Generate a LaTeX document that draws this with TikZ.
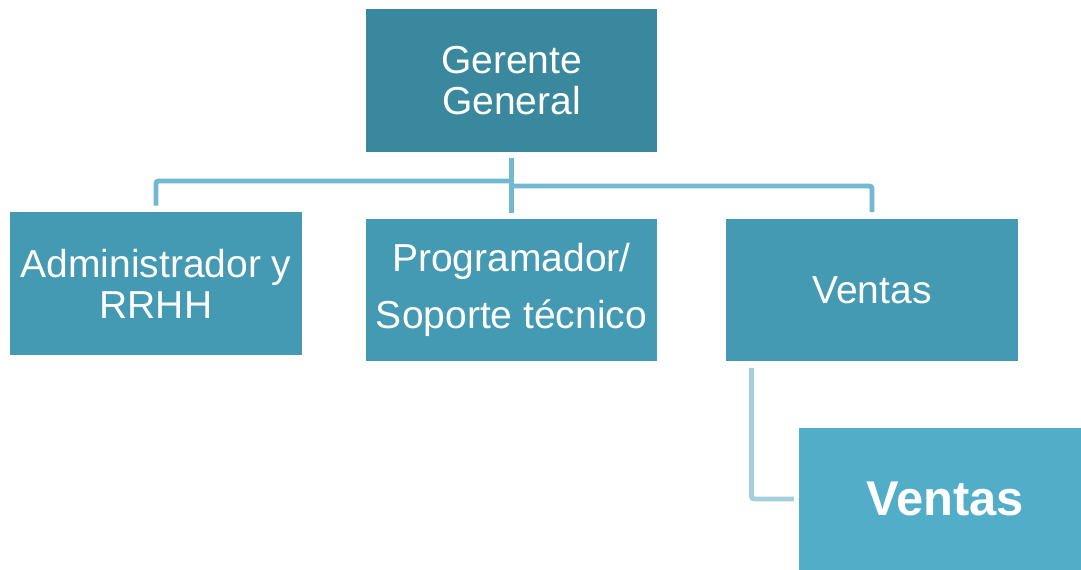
\documentclass[tikz,border=0pt]{standalone}
\usepackage{fontspec}
\setmainfont{Liberation Sans}
\definecolor{gerente}{HTML}{3A889D}
\definecolor{area}{HTML}{4499B3}
\definecolor{subarea}{HTML}{52ADC8}
\definecolor{linea}{HTML}{72B8CF}
\definecolor{lineaclara}{HTML}{A6CFDE}
\tikzset{
	caja/.style={fill=area,text=white,minimum width=5.84cm,minimum height=2.86cm,
		align=center,inner sep=0pt,font=\fontsize{22.2}{23.2}\selectfont},
	conector/.style={draw=linea,line width=2.8pt,rounded corners=1.5pt},
}
\begin{document}
\begin{tikzpicture}[x=0.02cm,y=-0.02cm]
		\useasboundingbox (0,0) rectangle (1081,569);
		\node[caja,fill=gerente] (gg) at (511.5,80.5) {Gerente\\General};
		\node[caja] (admin) at (156,283.5) {Administrador y\\RRHH};
		\node[caja,font=\fontsize{22.2}{32}\selectfont] (prog) at (511.5,290) {Programador/\\Soporte t\'ecnico};
		\node[caja] (ventas) at (872,290) {Ventas};
		\node[caja,fill=subarea,font=\fontsize{27.8}{30}\selectfont\bfseries] (subventas) at (945,499) {Ventas};
		%ramas
		\coordinate (bus1) at (gg.south |- 0,181);
		\coordinate (bus2) at (gg.south |- 0,186);
		\draw[conector] ([yshift=-3.4pt]gg.south) -- ([yshift=2.8pt]prog.north);
		\draw[conector] ([yshift=3.4pt]admin.north) |- (bus1);
		\draw[conector] ([yshift=3.4pt]ventas.north) |- (bus2);
		\draw[conector,draw=lineaclara] ([xshift=14.7pt,yshift=-3.4pt]ventas.south west) |- ([xshift=-2.8pt]subventas.west);
\end{tikzpicture}
\end{document}
